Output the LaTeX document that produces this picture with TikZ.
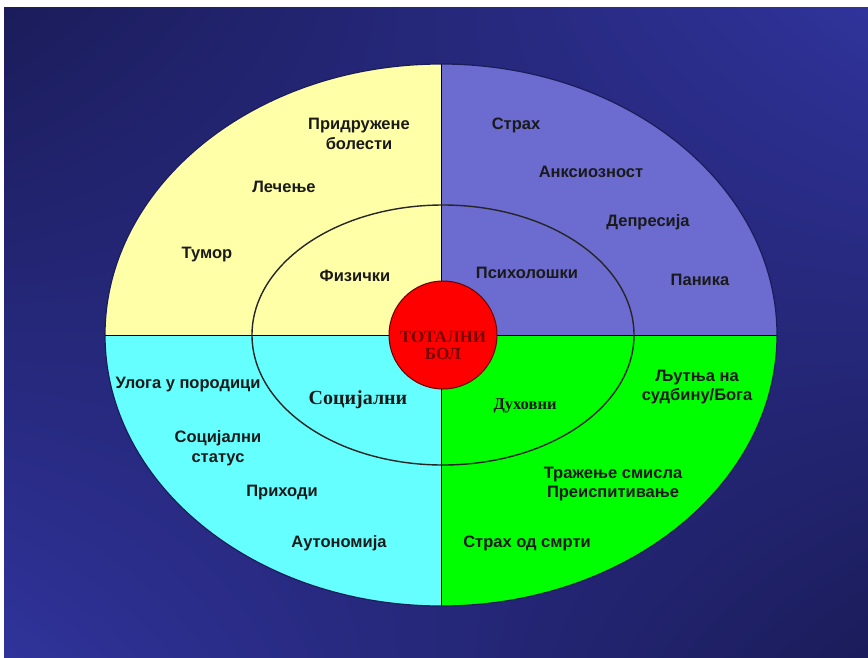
\documentclass[tikz,border=0pt]{standalone}
\usepackage{fontspec}
\setmainfont{Liberation Sans}
\newfontfamily\timesfont{Liberation Serif}
\usetikzlibrary{positioning,shadings}

\definecolor{bgdark}{HTML}{1B1C5A}
\definecolor{bglight}{HTML}{30339A}
\definecolor{physyellow}{HTML}{FFFFA8}
\definecolor{psychblue}{HTML}{6B6BD0}
\definecolor{socialcyan}{HTML}{66FFFF}
\definecolor{spiritgreen}{HTML}{00FF00}
\definecolor{painred}{HTML}{FF0000}
\definecolor{labelink}{HTML}{1A1A1A}

\begin{document}
\begin{tikzpicture}[x=1pt,y=-1pt,
  lbl/.style={font=\fontsize{16.5}{19.5}\selectfont\bfseries, text=labelink, align=center, inner sep=0pt},
  serlbl/.style={font=\fontsize{#1}{#1}\selectfont\timesfont\bfseries, text=labelink, inner sep=0pt},
  painball/.style={circle, fill=painred, draw=black!60!red, line width=1pt, minimum size=108pt, inner sep=0pt}]
\useasboundingbox (0,0) rectangle (868,657);
\fill[white] (0,0) rectangle (868,657);
\shade[upper left=bgdark, upper right=bglight, lower left=bglight, lower right=bgdark] (4,7) rectangle (868,657);

% quadrants
\begin{scope}
\clip (441,335) ellipse [x radius=336pt, y radius=271pt];
\fill[physyellow] (441,335) rectangle (100,60);
\fill[psychblue] (441,335) rectangle (780,60);
\fill[socialcyan] (441,335) rectangle (100,610);
\fill[spiritgreen] (441,335) rectangle (780,610);
\draw[line width=0.8pt] (441,60) -- (441,610);
\draw[line width=0.8pt] (100,335) -- (780,335);
\end{scope}
\draw[line width=1.2pt, draw=bgdark] (441,335) ellipse [x radius=336pt, y radius=271pt];
\draw[line width=1.4pt, draw=black!85] (443,335) ellipse [x radius=191pt, y radius=130pt];

\node[painball] (total) at (443,335) {};
\node[serlbl=17, text=black!55!red, align=center] (totaltext) at ([yshift=-10pt]total.center) {ТОТАЛНИ\\БОЛ};

% physical
\node[lbl] (comorb) at (359,134) {Придружене\\болести};
\node[lbl] (treat) at (284,187) {Лечење};
\node[lbl] (tumor) at (207,255) {Тумор};
\node[lbl] (phys) at (355,276) {Физички};

% psychological
\node[lbl] (fear) at (516,125) {Страх};
\node[lbl] (anx) at (591,172) {Анксиозност};
\node[lbl] (depr) at (648,222) {Депресија};
\node[lbl] (psych) at (527,273) {Психолошки};
\node[lbl] (panic) at (700,280) {Паника};

% social
\node[lbl] (family) at (188,385) {Улога у породици};
\node[serlbl=20] (social) at (358,400) {Социјални};
\node[lbl] (status) at (218,448) {Социјални\\статус};
\node[lbl] (income) at (282,493) {Приходи};
\node[lbl] (autonomy) at (339,543) {Аутономија};

% spiritual
\node[lbl] (anger) at (697,387) {Љутња на\\судбину/Бога};
\node[serlbl=16.5] (spirit) at (525,406) {Духовни};
\node[lbl] (meaning) at (613,484) {Тражење смисла\\Преиспитивање};
\node[lbl] (death) at (527,543) {Страх од смрти};
\end{tikzpicture}
\end{document}
